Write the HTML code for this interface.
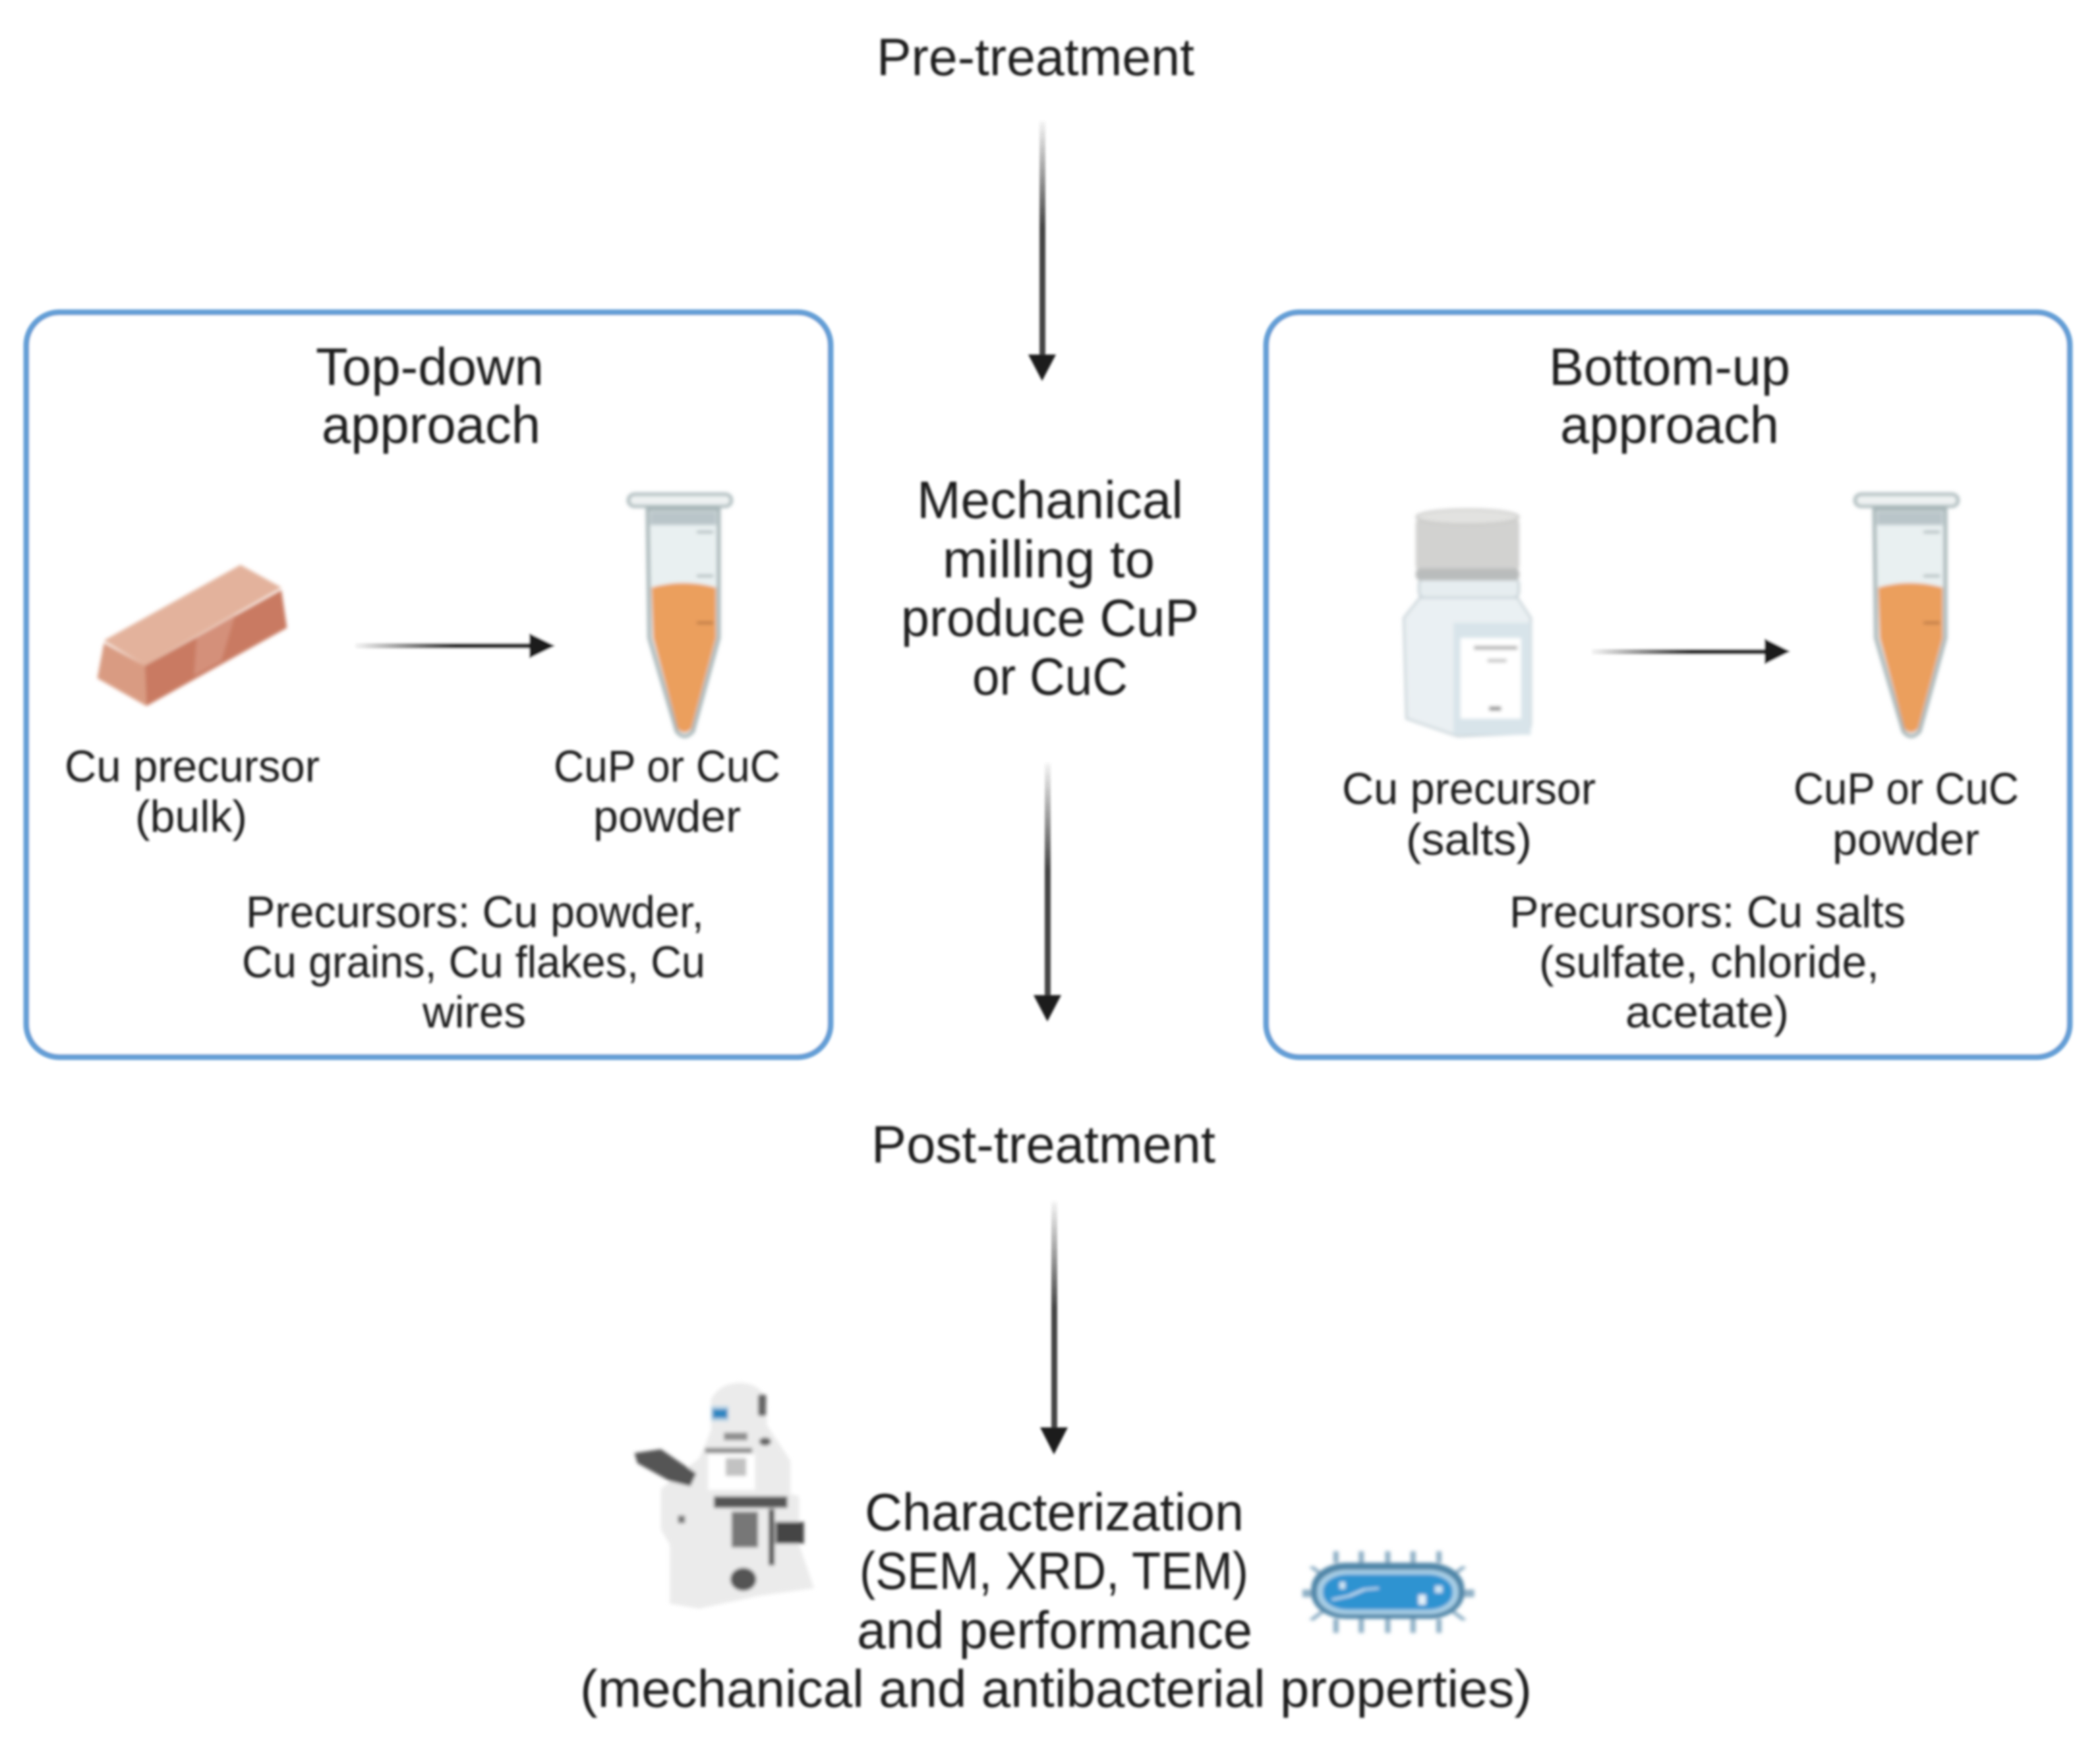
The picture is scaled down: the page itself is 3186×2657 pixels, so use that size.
<!DOCTYPE html>
<html>
<head>
<meta charset="utf-8">
<style>
html,body{margin:0;padding:0;background:#fff;overflow:hidden;}
svg{display:block;}
text{font-family:"Liberation Sans",sans-serif;fill:#1a1a1a;}
.l{font-size:80px;}
.s{font-size:68px;}
</style>
</head>
<body>
<svg width="3186" height="2657" viewBox="0 0 3186 2657" xmlns="http://www.w3.org/2000/svg">
<defs>
<filter id="b" filterUnits="userSpaceOnUse" x="0" y="0" width="3186" height="2657"><feGaussianBlur stdDeviation="1.9"/></filter>
<filter id="b2" filterUnits="userSpaceOnUse" x="0" y="0" width="3186" height="2657"><feGaussianBlur stdDeviation="2.8"/></filter>
<linearGradient id="a1" gradientUnits="userSpaceOnUse" x1="0" y1="184" x2="0" y2="345"><stop offset="0" stop-color="#444" stop-opacity=".05"/><stop offset="1" stop-color="#444"/></linearGradient>
<linearGradient id="a2" gradientUnits="userSpaceOnUse" x1="0" y1="1158" x2="0" y2="1320"><stop offset="0" stop-color="#444" stop-opacity=".05"/><stop offset="1" stop-color="#444"/></linearGradient>
<linearGradient id="a3" gradientUnits="userSpaceOnUse" x1="0" y1="1823" x2="0" y2="1985"><stop offset="0" stop-color="#444" stop-opacity=".05"/><stop offset="1" stop-color="#444"/></linearGradient>
<linearGradient id="h1" gradientUnits="userSpaceOnUse" x1="539" y1="0" x2="690" y2="0"><stop offset="0" stop-color="#333" stop-opacity=".05"/><stop offset="1" stop-color="#333"/></linearGradient>
<linearGradient id="h2" gradientUnits="userSpaceOnUse" x1="2415" y1="0" x2="2565" y2="0"><stop offset="0" stop-color="#333" stop-opacity=".05"/><stop offset="1" stop-color="#333"/></linearGradient>
<g id="tube">
  <path d="M1185,435 L1315,435 L1315,690 L1268,875 Q1252,895 1238,875 L1188,690 Z" fill="#e9f0f1" stroke="#a7b6b8" stroke-width="7"/>
  <rect x="1190" y="440" width="120" height="26" fill="#b9c5c9"/>
  <path d="M1192,590 Q1250,572 1310,590 L1310,690 L1265,870 Q1252,885 1240,870 L1195,690 Z" fill="#eb9f5d"/>
  <rect x="1150" y="405" width="188" height="24" rx="11" fill="#eef2f2" stroke="#a9b8ba" stroke-width="6"/>
  <rect x="1275" y="478" width="30" height="4" fill="#9aa8aa"/>
  <rect x="1275" y="565" width="30" height="4" fill="#9aa8aa"/>
  <rect x="1275" y="658" width="30" height="4" fill="#a86d3c"/>
</g>
</defs>
<rect width="3186" height="2657" fill="#fff"/>

<g filter="url(#b)">
  <rect x="40" y="474" width="1220" height="1130" rx="50" fill="#fff" stroke="#659fd6" stroke-width="9"/>
  <rect x="1921" y="474" width="1219" height="1130" rx="50" fill="#fff" stroke="#659fd6" stroke-width="9"/>

  <rect x="1577" y="184" width="9" height="358" fill="url(#a1)"/>
  <polygon points="1560,538 1602,538 1581,578" fill="#1e1e1e"/>
  <rect x="1585" y="1158" width="9" height="358" fill="url(#a2)"/>
  <polygon points="1568,1510 1610,1510 1589,1550" fill="#1e1e1e"/>
  <rect x="1595" y="1823" width="9" height="350" fill="url(#a3)"/>
  <polygon points="1578,2166 1620,2166 1599,2207" fill="#1e1e1e"/>

  <rect x="539" y="976" width="270" height="8" fill="url(#h1)"/>
  <polygon points="803,961 842,980 803,999" fill="#1e1e1e"/>
  <rect x="2415" y="985" width="268" height="8" fill="url(#h2)"/>
  <polygon points="2677,969 2716,988.500 2677,1008" fill="#1e1e1e"/>
</g>

<g filter="url(#b2)">
  <g transform="translate(0,440) scale(.8292,.7653)">
    <polygon points="190,695 440,545 515,590 265,745" fill="#e3b29c"/>
    <polygon points="190,700 265,745 268,825 178,770" fill="#d99b82"/>
    <polygon points="265,745 515,595 525,670 268,825" fill="#c97a62"/>
    <polygon points="360,688 430,645 405,735 355,765" fill="#d4907a"/>
  </g>

  <g transform="translate(0,440) scale(.8292,.7653)"><use href="#tube"/></g>
  <g transform="translate(1861,440) scale(.8292,.7653)"><use href="#tube"/></g>

  <g transform="translate(1900,440) scale(.8203,.7653)">
    <rect x="308" y="570" width="185" height="42" rx="14" fill="#e6edf0" stroke="#c2ced3" stroke-width="4"/>
    <path d="M310,610 L490,610 L515,650 L515,860 Q515,880 490,880 L380,885 L285,850 L280,650 Z" fill="#eaf0f3" stroke="#c7d2d7" stroke-width="4"/>
    <rect x="372" y="660" width="143" height="222" fill="#d8e4ea"/>
    <rect x="385" y="690" width="112" height="160" fill="#fff"/>
    <rect x="410" y="706" width="80" height="7" fill="#aaa"/>
    <rect x="435" y="732" width="35" height="6" fill="#bbb"/>
    <rect x="438" y="826" width="22" height="8" fill="#888"/>
    <rect x="302" y="450" width="192" height="110" rx="14" fill="#d2d2d0"/>
    <ellipse cx="398" cy="450" rx="95" ry="15" fill="#e2e2e0" stroke="#c4c4c2" stroke-width="3"/>
    <rect x="302" y="552" width="192" height="24" rx="10" fill="#b9bcbc"/>
  </g>

  <g transform="translate(900,2050) scale(.8929,.3871)">
    <path d="M200,310 L200,190 Q215,125 250,125 Q295,130 295,230 L295,290 L335,430 L335,560 L350,570 L350,760 L375,930 L280,960 L180,1010 L130,990 L130,760 L115,700 L115,540 L180,420 L190,370 Z" fill="#ebebeb"/>
    <rect x="280" y="170" width="14" height="85" rx="6" fill="#666"/>
    <rect x="200" y="215" width="30" height="60" fill="#b8d4e6"/>
    <rect x="203" y="228" width="25" height="35" fill="#2e86c1"/>
    <rect x="222" y="320" width="40" height="30" fill="#8f8f8f"/>
    <ellipse cx="292" cy="355" rx="10" ry="16" fill="#666"/>
    <rect x="190" y="380" width="80" height="20" fill="#8c8c8c"/>
    <rect x="195" y="405" width="80" height="140" fill="#fff"/>
    <rect x="225" y="420" width="35" height="70" fill="#c2c2c2"/>
    <polygon points="70,400 115,385 175,480 165,530 130,510 75,440" fill="#555"/>
    <rect x="205" y="570" width="125" height="45" fill="#555"/>
    <rect x="235" y="630" width="45" height="140" fill="#777"/>
    <rect x="310" y="670" width="48" height="85" fill="#444"/>
    <rect x="298" y="620" width="10" height="220" fill="#555"/>
    <ellipse cx="255" cy="895" rx="22" ry="45" fill="#555"/>
    <rect x="144" y="645" width="12" height="30" fill="#777"/>
  </g>

  <g transform="translate(900,2050) scale(.8929,.3871)">
    <g stroke="#8fb0c6" stroke-width="9" fill="none">
      <path d="M1262,785V830M1305,785V830M1350,785V830M1393,785V830M1437,785V830"/>
      <path d="M1262,1050V1105M1305,1050V1105M1350,1050V1105M1393,1050V1105M1437,1050V1105"/>
      <path d="M1220,845L1240,880M1480,845L1460,880M1220,1055L1240,1020M1480,1055L1460,1020"/>
      <path d="M1205,950H1225M1475,950H1497" stroke-width="30"/>
    </g>
    <rect x="1220" y="830" width="260" height="220" rx="60" ry="100" fill="#4f86a8"/>
    <rect x="1230" y="858" width="240" height="174" rx="50" ry="80" fill="#a9cfe6"/>
    <rect x="1240" y="876" width="220" height="138" rx="42" ry="64" fill="#2f93d1"/>
    <path d="M1255,975 L1285,960 L1310,935 L1335,930" stroke="#cfe6f5" stroke-width="7" fill="none"/>
    <rect x="1268" y="905" width="10" height="28" fill="#cfe6f5"/>
    <rect x="1430" y="920" width="13" height="28" fill="#cfe6f5"/>
    <rect x="1402" y="955" width="13" height="40" fill="#e6f2fa"/>
  </g>
</g>

<g filter="url(#b)">
  <text class="l" x="1330" y="114" textLength="482" lengthAdjust="spacingAndGlyphs">Pre-treatment</text>
  <text class="l" x="479" y="584" textLength="346" lengthAdjust="spacingAndGlyphs">Top-down</text>
  <text class="l" x="488" y="672" textLength="332" lengthAdjust="spacingAndGlyphs">approach</text>
  <text class="l" x="2350" y="584" textLength="366" lengthAdjust="spacingAndGlyphs">Bottom-up</text>
  <text class="l" x="2367" y="672" textLength="332" lengthAdjust="spacingAndGlyphs">approach</text>

  <text class="l" x="1391" y="786" textLength="404" lengthAdjust="spacingAndGlyphs">Mechanical</text>
  <text class="l" x="1430" y="876" textLength="322" lengthAdjust="spacingAndGlyphs">milling to</text>
  <text class="l" x="1367" y="965" textLength="452" lengthAdjust="spacingAndGlyphs">produce CuP</text>
  <text class="l" x="1475" y="1054" textLength="236" lengthAdjust="spacingAndGlyphs">or CuC</text>

  <text class="l" x="1322" y="1764" textLength="522" lengthAdjust="spacingAndGlyphs">Post-treatment</text>

  <text class="s" x="98" y="1186" textLength="387" lengthAdjust="spacingAndGlyphs">Cu precursor</text>
  <text class="s" x="205" y="1262" textLength="170" lengthAdjust="spacingAndGlyphs">(bulk)</text>
  <text class="s" x="840" y="1186" textLength="344" lengthAdjust="spacingAndGlyphs">CuP or CuC</text>
  <text class="s" x="900" y="1262" textLength="224" lengthAdjust="spacingAndGlyphs">powder</text>
  <text class="s" x="373" y="1407" textLength="695" lengthAdjust="spacingAndGlyphs">Precursors: Cu powder,</text>
  <text class="s" x="367" y="1483" textLength="703" lengthAdjust="spacingAndGlyphs">Cu grains, Cu flakes, Cu</text>
  <text class="s" x="641" y="1559" textLength="157" lengthAdjust="spacingAndGlyphs">wires</text>

  <text class="s" x="2036" y="1220" textLength="385" lengthAdjust="spacingAndGlyphs">Cu precursor</text>
  <text class="s" x="2133" y="1297" textLength="191" lengthAdjust="spacingAndGlyphs">(salts)</text>
  <text class="s" x="2721" y="1220" textLength="342" lengthAdjust="spacingAndGlyphs">CuP or CuC</text>
  <text class="s" x="2780" y="1297" textLength="223" lengthAdjust="spacingAndGlyphs">powder</text>
  <text class="s" x="2290" y="1407" textLength="601" lengthAdjust="spacingAndGlyphs">Precursors: Cu salts</text>
  <text class="s" x="2335" y="1483" textLength="516" lengthAdjust="spacingAndGlyphs">(sulfate, chloride,</text>
  <text class="s" x="2466" y="1559" textLength="248" lengthAdjust="spacingAndGlyphs">acetate)</text>

  <text class="l" x="1312" y="2322" textLength="575" lengthAdjust="spacingAndGlyphs">Characterization</text>
  <text class="l" x="1304" y="2411" textLength="590" lengthAdjust="spacingAndGlyphs">(SEM, XRD, TEM)</text>
  <text class="l" x="1300" y="2501" textLength="600" lengthAdjust="spacingAndGlyphs">and performance</text>
  <text class="l" x="880" y="2590" textLength="1444" lengthAdjust="spacingAndGlyphs">(mechanical and antibacterial properties)</text>
</g>
</svg>
</body>
</html>
